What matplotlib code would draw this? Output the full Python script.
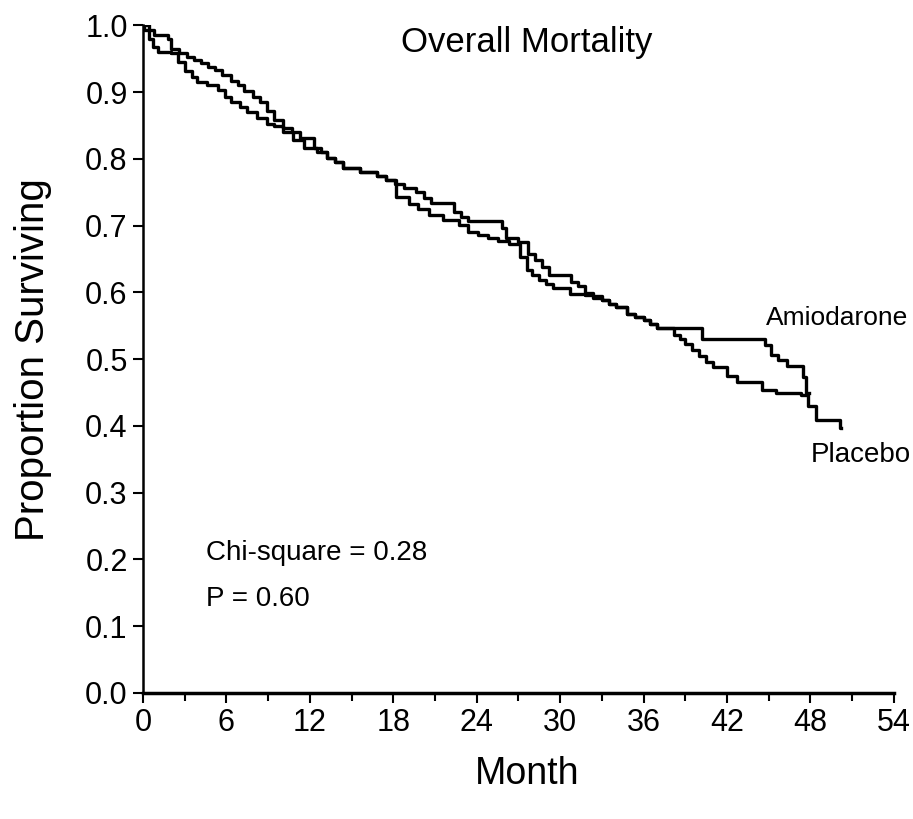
import matplotlib
matplotlib.use("Agg")
from matplotlib import pyplot as plt
from matplotlib.ticker import MultipleLocator

plt.rcParams['font.family'] = ['Liberation Sans', 'DejaVu Sans']

# Kaplan-Meier curves (month, proportion surviving)
amio_t = [0, 0.4, 0.8, 1.8, 2.0, 2.6, 3.2, 3.7, 4.2, 4.7, 5.2, 5.7, 6.3, 6.8, 7.3,
          7.9, 8.4, 8.9, 9.4, 10.1, 10.7, 11.3, 12.3, 12.8, 13.2, 13.8, 14.4, 15.6,
          16.8, 17.5, 18.1, 18.8, 19.6, 20.2, 20.7, 22.4, 22.9, 23.4, 25.8, 26.1,
          27.0, 27.7, 28.2, 28.7, 29.2, 30.8, 31.3, 31.8, 32.4, 33.0, 33.5, 34.0,
          34.8, 35.4, 36.0, 36.5, 37.0, 40.2, 44.7, 45.2, 45.7, 46.3, 47.5, 47.7,
          47.9]
amio_s = [1.0, 0.993, 0.985, 0.98, 0.965, 0.958, 0.952, 0.948, 0.943, 0.938, 0.933,
          0.925, 0.917, 0.91, 0.902, 0.893, 0.885, 0.872, 0.858, 0.847, 0.84, 0.832,
          0.817, 0.81, 0.802, 0.795, 0.787, 0.781, 0.775, 0.769, 0.763, 0.757, 0.75,
          0.742, 0.734, 0.72, 0.713, 0.707, 0.696, 0.681, 0.676, 0.658, 0.648, 0.638,
          0.626, 0.616, 0.609, 0.599, 0.594, 0.588, 0.583, 0.578, 0.568, 0.563, 0.558,
          0.552, 0.546, 0.53, 0.521, 0.506, 0.498, 0.49, 0.473, 0.45, 0.45]

plac_t = [0, 0.1, 0.4, 0.7, 1.1, 2.0, 2.5, 3.0, 3.5, 3.9, 4.6, 5.4, 5.9, 6.3, 7.0,
          7.5, 8.2, 8.9, 9.4, 10.1, 10.8, 11.6, 12.5, 13.2, 13.8, 14.4, 15.6, 16.8,
          17.5, 18.2, 19.1, 19.8, 20.6, 21.6, 22.7, 23.4, 24.1, 24.8, 25.5, 26.3,
          27.1, 27.6, 28.0, 28.5, 29.0, 29.5, 30.7, 31.8, 32.4, 33.0, 33.5, 34.0,
          34.8, 35.4, 36.0, 36.5, 37.0, 38.2, 38.6, 39.0, 39.5, 40.0, 40.5, 41.0,
          42.0, 42.7, 44.5, 45.5, 47.3, 47.8, 48.4, 50.1, 50.2]
plac_s = [1.0, 0.993, 0.98, 0.968, 0.96, 0.958, 0.945, 0.932, 0.922, 0.915, 0.91,
          0.903, 0.893, 0.885, 0.877, 0.87, 0.862, 0.853, 0.85, 0.84, 0.828, 0.817,
          0.81, 0.802, 0.795, 0.787, 0.781, 0.775, 0.769, 0.743, 0.733, 0.725, 0.716,
          0.708, 0.701, 0.691, 0.686, 0.681, 0.677, 0.673, 0.653, 0.633, 0.626, 0.618,
          0.612, 0.606, 0.598, 0.596, 0.592, 0.588, 0.583, 0.578, 0.568, 0.563, 0.558,
          0.552, 0.546, 0.536, 0.53, 0.522, 0.513, 0.505, 0.496, 0.488, 0.475, 0.466,
          0.454, 0.45, 0.446, 0.43, 0.409, 0.397, 0.397]

x_ticks = [0, 6, 12, 18, 24, 30, 36, 42, 48, 54]
y_ticks = [0.0, 0.1, 0.2, 0.3, 0.4, 0.5, 0.6, 0.7, 0.8, 0.9, 1.0]

fig = plt.figure(figsize=(9.13, 8.19), dpi=100)
ax = fig.add_axes([0.1566, 0.154, 0.8224, 0.815])

ax.step(amio_t, amio_s, where='post', color='black', lw=2.4)
ax.step(plac_t, plac_s, where='post', color='black', lw=2.4)

ax.set_xlim(0, 54)
ax.set_ylim(0, 1.0)
ax.set_xticks(x_ticks)
ax.xaxis.set_minor_locator(MultipleLocator(3))
ax.set_yticks(y_ticks)
ax.set_yticklabels([f"{v:.1f}" for v in y_ticks])

for side in ['top', 'right']:
    ax.spines[side].set_visible(False)
ax.spines['bottom'].set_linewidth(2.5)
ax.spines['left'].set_linewidth(1.8)
ax.tick_params(axis='both', which='major', direction='out', length=7, width=1.5,
               labelsize=22, pad=4)
ax.tick_params(axis='x', which='minor', direction='out', length=6, width=1.5)

ax.set_xlabel("Month", fontsize=27)
ax.xaxis.set_label_coords(0.512, -0.094)
ax.set_ylabel("Proportion Surviving", fontsize=29, labelpad=24)

ax.text(27.6, 0.975, "Overall Mortality", fontsize=25, ha='center', va='center')
ax.text(4.5, 0.21, "Chi-square = 0.28", fontsize=20, ha='left', va='center')
ax.text(4.5, 0.14, "P = 0.60", fontsize=20, ha='left', va='center')
ax.text(44.8, 0.561, "Amiodarone", fontsize=19, ha='left', va='center')
ax.text(48.0, 0.356, "Placebo", fontsize=20, ha='left', va='center')

plt.savefig("out.png", dpi=100)
